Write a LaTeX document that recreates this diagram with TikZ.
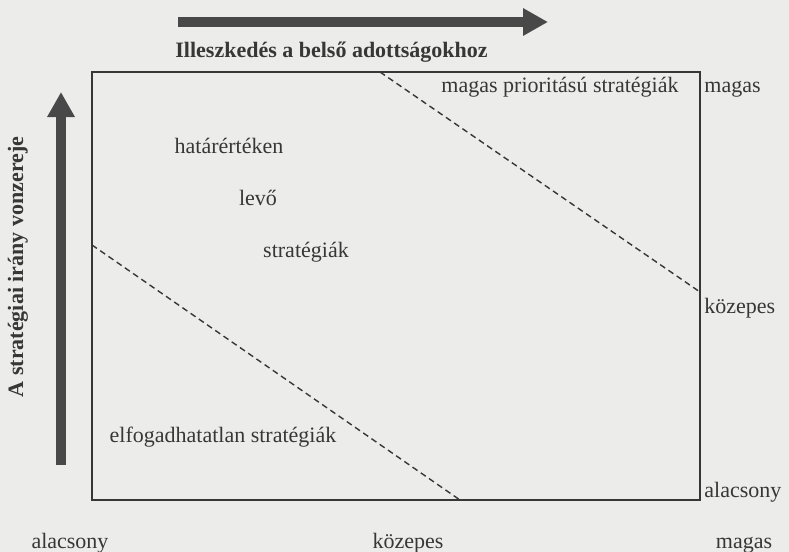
\documentclass[tikz,border=0pt]{standalone}
\usepackage{fontspec}
\setmainfont{Liberation Serif}
\usetikzlibrary{arrows.meta,calc}
\definecolor{paper}{RGB}{236,236,234}
\definecolor{ink}{RGB}{55,55,55}
\definecolor{barfill}{RGB}{72,72,72}
\tikzstyle{quadtext} = [text=ink, font=\fontsize{11}{13}\selectfont, inner sep=0pt]
\tikzstyle{axistitle} = [quadtext, font=\fontsize{11}{13}\selectfont\bfseries]
\tikzstyle{bigarrow} = [draw=barfill, line width=5pt, -{Triangle[width=13pt,length=12.5pt]}]
\tikzstyle{fieldframe} = [draw=ink, line width=0.6pt]
\tikzstyle{divider} = [draw=ink, line width=0.7pt, dash pattern=on 3pt off 2pt]
\begin{document}
\begin{tikzpicture}[x=0.5pt,y=-0.5pt]

% paper and bounding box
\fill[paper] (0,0) rectangle (789,552);
\useasboundingbox (0,0) rectangle (789,552);

% axis arrows and titles
\coordinate (hfrom) at (178,22);
\coordinate (hto) at (548,22);
\coordinate (vfrom) at (61,465);
\coordinate (vto) at (61,92);
\draw [bigarrow] (hfrom) -- (hto);
\draw [bigarrow] (vfrom) -- (vto);
\node (xtitle) [axistitle, anchor=base west] at (175,57) {Illeszkedés a belső adottságokhoz};
\node (ytitle) [axistitle, rotate=90] at (18,267) {A stratégiai irány vonzereje};

% the field
\coordinate (nw) at (92,72);
\coordinate (se) at (700,500);
\draw [fieldframe] (nw) rectangle (se);
\coordinate (topcut) at (380,72);
\coordinate (rightcut) at (700,292);
\coordinate (leftcut) at (92,245);
\coordinate (bottomcut) at (460,500);
\draw [divider] (topcut) -- (rightcut);
\draw [divider] (leftcut) -- (bottomcut);

% zones
\node (high) [quadtext, anchor=base] at (560,92) {magas prioritású stratégiák};
\node (edge1) [quadtext, anchor=base] at (229,153) {határértéken};
\node (edge2) [quadtext, anchor=base] at (258,205) {levő};
\node (edge3) [quadtext, anchor=base] at (306,257) {stratégiák};
\node (low) [quadtext, anchor=base] at (223,442) {elfogadhatatlan stratégiák};

% scale on the right
\node (rhigh) [quadtext, anchor=base west] at (704,92) {magas};
\node (rmid) [quadtext, anchor=base west] at (704,313) {közepes};
\node (rlow) [quadtext, anchor=base west] at (704,497) {alacsony};

% scale below
\node (blow) [quadtext, anchor=base] at (70,548) {alacsony};
\node (bmid) [quadtext, anchor=base] at (408,548) {közepes};
\node (bhigh) [quadtext, anchor=base] at (744,548) {magas};

\end{tikzpicture}
\end{document}
